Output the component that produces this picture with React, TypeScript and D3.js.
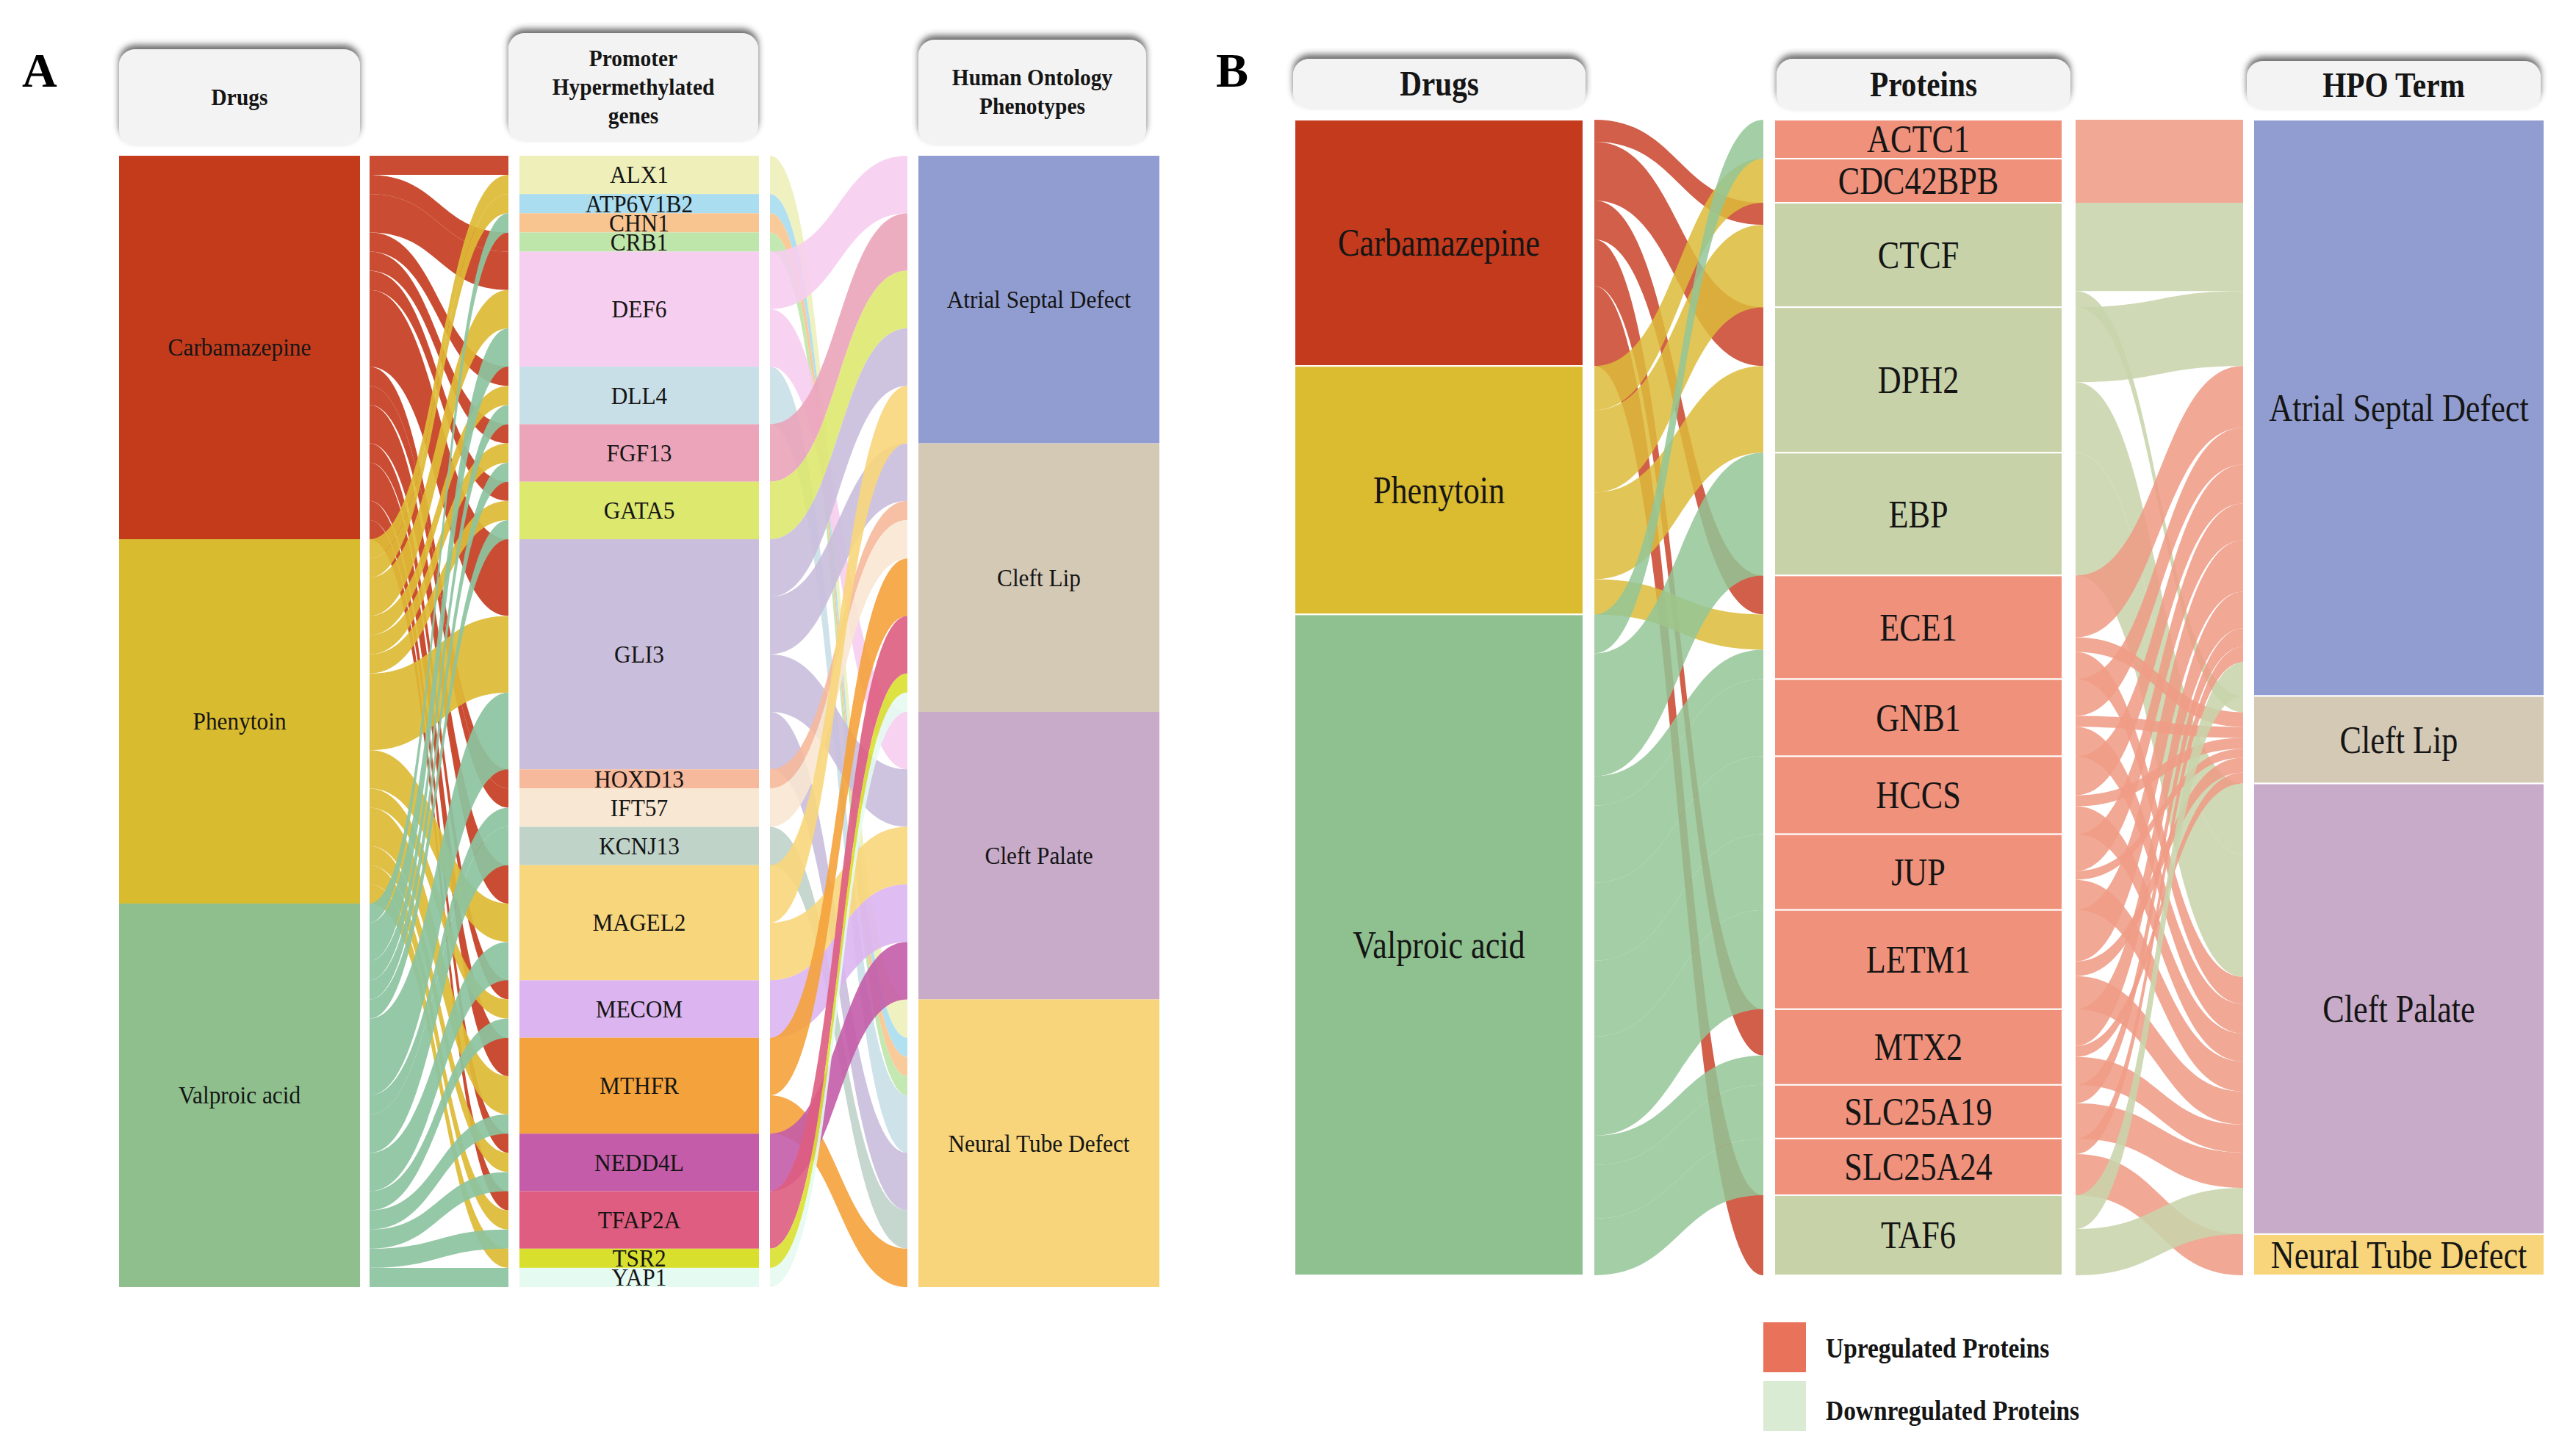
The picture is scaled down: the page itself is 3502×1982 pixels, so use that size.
import React, { useEffect } from "react";
import * as d3 from "d3";

// ---------- Panel A data ----------
const drugsA = ["Carbamazepine", "Phenytoin", "Valproic acid"];
const genesA = [
  "ALX1", "ATP6V1B2", "CHN1", "CRB1", "DEF6", "DLL4", "FGF13", "GATA5", "GLI3",
  "HOXD13", "IFT57", "KCNJ13", "MAGEL2", "MECOM", "MTHFR", "NEDD4L", "TFAP2A", "TSR2", "YAP1",
];
const phenotypesA = ["Atrial Septal Defect", "Cleft Lip", "Cleft Palate", "Neural Tube Defect"];

// drug -> gene (number of associations)
const drugGeneA: [string, string, number][] = [
  ["Carbamazepine", "ALX1", 1], ["Phenytoin", "ALX1", 1],
  ["Phenytoin", "ATP6V1B2", 1],
  ["Valproic acid", "CHN1", 1],
  ["Carbamazepine", "CRB1", 1],
  ["Carbamazepine", "DEF6", 2], ["Phenytoin", "DEF6", 2], ["Valproic acid", "DEF6", 2],
  ["Carbamazepine", "DLL4", 1], ["Phenytoin", "DLL4", 1], ["Valproic acid", "DLL4", 1],
  ["Carbamazepine", "FGF13", 1], ["Phenytoin", "FGF13", 1], ["Valproic acid", "FGF13", 1],
  ["Carbamazepine", "GATA5", 1], ["Phenytoin", "GATA5", 1], ["Valproic acid", "GATA5", 1],
  ["Carbamazepine", "GLI3", 4], ["Phenytoin", "GLI3", 4], ["Valproic acid", "GLI3", 4],
  ["Carbamazepine", "HOXD13", 1],
  ["Carbamazepine", "IFT57", 1], ["Valproic acid", "IFT57", 1],
  ["Valproic acid", "KCNJ13", 2],
  ["Carbamazepine", "MAGEL2", 2], ["Phenytoin", "MAGEL2", 2], ["Valproic acid", "MAGEL2", 2],
  ["Carbamazepine", "MECOM", 1], ["Phenytoin", "MECOM", 1], ["Valproic acid", "MECOM", 1],
  ["Carbamazepine", "MTHFR", 2], ["Phenytoin", "MTHFR", 2], ["Valproic acid", "MTHFR", 1],
  ["Carbamazepine", "NEDD4L", 1], ["Phenytoin", "NEDD4L", 1], ["Valproic acid", "NEDD4L", 1],
  ["Carbamazepine", "TFAP2A", 1], ["Phenytoin", "TFAP2A", 1], ["Valproic acid", "TFAP2A", 1],
  ["Phenytoin", "TSR2", 1],
  ["Valproic acid", "YAP1", 1],
];

// gene -> phenotype
const genePhenoA: [string, string, number][] = [
  ["ALX1", "Neural Tube Defect", 2],
  ["ATP6V1B2", "Neural Tube Defect", 1],
  ["CHN1", "Neural Tube Defect", 1],
  ["CRB1", "Neural Tube Defect", 1],
  ["DEF6", "Atrial Septal Defect", 3], ["DEF6", "Cleft Palate", 3],
  ["DLL4", "Neural Tube Defect", 3],
  ["FGF13", "Atrial Septal Defect", 3],
  ["GATA5", "Atrial Septal Defect", 3],
  ["GLI3", "Atrial Septal Defect", 3], ["GLI3", "Cleft Lip", 3], ["GLI3", "Cleft Palate", 3], ["GLI3", "Neural Tube Defect", 3],
  ["HOXD13", "Cleft Lip", 1],
  ["IFT57", "Cleft Lip", 2],
  ["KCNJ13", "Neural Tube Defect", 2],
  ["MAGEL2", "Atrial Septal Defect", 3], ["MAGEL2", "Cleft Palate", 3],
  ["MECOM", "Cleft Palate", 3],
  ["MTHFR", "Cleft Lip", 3], ["MTHFR", "Neural Tube Defect", 2],
  ["NEDD4L", "Cleft Palate", 3],
  ["TFAP2A", "Cleft Lip", 3],
  ["TSR2", "Cleft Lip", 1],
  ["YAP1", "Cleft Lip", 1],
];

const drugColorsA = ["#C43B1C", "#D9BB30", "#8EBF8D"];
const drugLinkColorsA = ["#C63E22", "#DDBA35", "#8CC3A0"];
const geneColorsA = [
  "#EEEFB9", "#A9DDEF", "#F8C590", "#BEE6AA", "#F6CEEF", "#C9DFE8", "#EBA4BA", "#DDE86F", "#C9BEDC",
  "#F6B99B", "#F8E7D2", "#BFD3C9", "#F8D67B", "#DCB5F0", "#F4A23B", "#C45CA9", "#DE5D81", "#D8E02D", "#E5FAF1",
];
const phenoColors = ["#919DD0", "#D4C9B5", "#C8AAC9", "#F8D57B"];

// ---------- Panel B data ----------
const drugsB = ["Carbamazepine", "Phenytoin", "Valproic acid"];
const proteinsB = [
  "ACTC1", "CDC42BPB", "CTCF", "DPH2", "EBP", "ECE1", "GNB1", "HCCS", "JUP",
  "LETM1", "MTX2", "SLC25A19", "SLC25A24", "TAF6",
];
const regulationB = ["up", "up", "down", "down", "down", "up", "up", "up", "up", "up", "up", "up", "up", "down"];
const hpoB = ["Atrial Septal Defect", "Cleft Lip", "Cleft Palate", "Neural Tube Defect"];

const drugProteinB: [string, string, number][] = [
  ["Carbamazepine", "CTCF", 3.0], ["Carbamazepine", "DPH2", 8.0], ["Carbamazepine", "ECE1", 5.3],
  ["Carbamazepine", "MTX2", 6.3], ["Carbamazepine", "TAF6", 10.9],
  ["Phenytoin", "CDC42BPB", 6.0], ["Phenytoin", "CTCF", 11.2], ["Phenytoin", "DPH2", 11.8], ["Phenytoin", "ECE1", 4.8],
  ["Valproic acid", "ACTC1", 5.3], ["Valproic acid", "EBP", 16.7], ["Valproic acid", "ECE1", 4.0],
  ["Valproic acid", "GNB1", 10.5], ["Valproic acid", "HCCS", 10.6], ["Valproic acid", "JUP", 10.3],
  ["Valproic acid", "LETM1", 13.5], ["Valproic acid", "MTX2", 4.0], ["Valproic acid", "SLC25A19", 7.3],
  ["Valproic acid", "SLC25A24", 7.7],
];

const proteinHpoB: [string, string, number][] = [
  ["ACTC1", "Atrial Septal Defect", 5.3],
  ["CDC42BPB", "Atrial Septal Defect", 6.0],
  ["CTCF", "Atrial Septal Defect", 12.0], ["CTCF", "Cleft Lip", 2.2],
  ["DPH2", "Atrial Septal Defect", 10.2], ["DPH2", "Cleft Palate", 9.6],
  ["EBP", "Cleft Palate", 16.7],
  ["ECE1", "Atrial Septal Defect", 8.4], ["ECE1", "Cleft Lip", 2.0], ["ECE1", "Cleft Palate", 3.7],
  ["GNB1", "Atrial Septal Defect", 5.0], ["GNB1", "Cleft Lip", 1.5], ["GNB1", "Cleft Palate", 4.0],
  ["HCCS", "Atrial Septal Defect", 5.3], ["HCCS", "Cleft Lip", 1.5], ["HCCS", "Cleft Palate", 3.8],
  ["JUP", "Atrial Septal Defect", 5.0], ["JUP", "Cleft Lip", 1.2], ["JUP", "Cleft Palate", 4.1],
  ["LETM1", "Atrial Septal Defect", 7.0], ["LETM1", "Cleft Lip", 2.0], ["LETM1", "Cleft Palate", 4.5],
  ["MTX2", "Atrial Septal Defect", 5.0], ["MTX2", "Cleft Lip", 1.5], ["MTX2", "Cleft Palate", 3.8],
  ["SLC25A19", "Atrial Septal Defect", 2.5], ["SLC25A19", "Cleft Palate", 4.8],
  ["SLC25A24", "Atrial Septal Defect", 2.1], ["SLC25A24", "Neural Tube Defect", 5.6],
  ["TAF6", "Atrial Septal Defect", 4.6], ["TAF6", "Cleft Palate", 6.3],
];

const drugColorsB = ["#C33A1D", "#DBBB30", "#8FC08F"];
const drugLinkColorsB = ["#C9432A", "#DDBB3A", "#93C597"];
const regColors: Record<string, string> = { up: "#EF917B", down: "#C8D2A8" };
const regLinkColors: Record<string, string> = { up: "#EF9C86", down: "#C8D4AB" };
const legendItems = [
  { label: "Upregulated Proteins", color: "#E8735A" },
  { label: "Downregulated Proteins", color: "#DAEBD4" },
];

const FONT = "'Liberation Serif', 'DejaVu Serif', serif";

type Flow = [string, string, number];

interface NodeBox { name: string; y0: number; y1: number; color: string }
interface BandShape { key: string; d: string; color: string }

function bandPath(x0: number, x1: number, s0: number, s1: number, t0: number, t1: number) {
  const xm = (x0 + x1) / 2;
  const p = d3.path();
  p.moveTo(x0, s0);
  p.bezierCurveTo(xm, s0, xm, t0, x1, t0);
  p.lineTo(x1, t1);
  p.bezierCurveTo(xm, t1, xm, s1, x0, s1);
  p.closePath();
  return p.toString();
}

// stack nodes in each column and route the flows between neighbouring columns
function layout(
  columns: string[][],
  stages: Flow[][],
  nodeColors: ((i: number) => string)[],
  linkColors: ((src: number, tgt: number) => string)[],
  top: number,
  bottom: number,
  linkX: [number, number][]
) {
  const values = columns.map((names, ci) =>
    names.map((n) => {
      const out = ci < stages.length ? d3.sum(stages[ci].filter((f) => f[0] === n), (f) => f[2]) : 0;
      const inn = ci > 0 ? d3.sum(stages[ci - 1].filter((f) => f[1] === n), (f) => f[2]) : 0;
      return Math.max(out, inn);
    })
  );
  const total = d3.sum(values[0]);
  const y = d3.scaleLinear().domain([0, total]).range([top, bottom]);
  const starts = values.map((v) => [0, ...Array.from(d3.cumsum(v))]);

  const nodes: NodeBox[][] = columns.map((names, ci) =>
    names.map((n, i) => ({
      name: n,
      y0: y(starts[ci][i]),
      y1: y(starts[ci][i + 1]),
      color: nodeColors[ci](i),
    }))
  );

  const bands: BandShape[][] = stages.map((flows, s) => {
    const src = columns[s];
    const tgt = columns[s + 1];
    const items = flows.map((f) => ({ si: src.indexOf(f[0]), ti: tgt.indexOf(f[1]), v: f[2], s0: 0, t0: 0 }));
    const outOff = starts[s].slice();
    d3.sort(items, (a) => a.si, (a) => a.ti).forEach((it) => {
      it.s0 = outOff[it.si];
      outOff[it.si] += it.v;
    });
    const inOff = starts[s + 1].slice();
    d3.sort(items, (a) => a.ti, (a) => a.si).forEach((it) => {
      it.t0 = inOff[it.ti];
      inOff[it.ti] += it.v;
    });
    const [x0, x1] = linkX[s];
    return d3.sort(items, (a) => a.si, (a) => a.ti).map((it) => ({
      key: `${s}-${it.si}-${it.ti}`,
      d: bandPath(x0, x1, y(it.s0), y(it.s0 + it.v), y(it.t0), y(it.t0 + it.v)),
      color: linkColors[s](it.si, it.ti),
    }));
  });

  return { nodes, bands };
}

interface Header { x: number; y: number; w: number; h: number; lines: string[]; size: number; sx: number }

// text squeezed horizontally, as in the source figure
const Label: React.FC<{ x: number; y: number; size: number; sx: number; bold?: boolean; anchor?: string; children: string }> = ({
  x, y, size, sx, bold, anchor = "middle", children,
}) => (
  <text
    transform={`translate(${x},${y}) scale(${sx},1)`}
    textAnchor={anchor}
    dominantBaseline="central"
    fontFamily={FONT}
    fontWeight={bold ? "bold" : "normal"}
    fontSize={size}
    fill="#151515"
  >
    {children}
  </text>
);

const HeaderBox: React.FC<{ h: Header }> = ({ h }) => {
  const lh = h.size * 1.22;
  const cy = h.y + h.h / 2;
  const first = cy - ((h.lines.length - 1) * lh) / 2;
  return (
    <g>
      <rect x={h.x} y={h.y} width={h.w} height={h.h} rx={22} fill="#F3F3F3" filter="url(#hdrShadow)" />
      {h.lines.map((l, i) => (
        <Label key={l} x={h.x + h.w / 2} y={first + i * lh} size={h.size} sx={h.sx} bold>
          {l}
        </Label>
      ))}
    </g>
  );
};

const App: React.FC = () => {
  useEffect(() => {
    document.body.style.margin = "0";
  }, []);

  // ----- Panel A -----
  const colXA: [number, number][] = [[162, 490], [707, 1033], [1250, 1578]];
  const linkXA: [number, number][] = [[503, 692], [1048, 1235]];
  const A = layout(
    [drugsA, genesA, phenotypesA],
    [drugGeneA, genePhenoA],
    [(i) => drugColorsA[i], (i) => geneColorsA[i], (i) => phenoColors[i]],
    [(s) => drugLinkColorsA[s], (s) => geneColorsA[s]],
    212,
    1752,
    linkXA
  );
  const headersA: Header[] = [
    { x: 162, y: 67, w: 328, h: 131, lines: ["Drugs"], size: 32, sx: 0.92 },
    { x: 692, y: 45, w: 340, h: 147, lines: ["Promoter", "Hypermethylated", "genes"], size: 32, sx: 0.92 },
    { x: 1250, y: 54, w: 310, h: 143, lines: ["Human Ontology", "Phenotypes"], size: 32, sx: 0.92 },
  ];

  // ----- Panel B -----
  const colXB: [number, number][] = [[1762, 2155], [2415, 2807], [3067, 3463]];
  const linkXB: [number, number][] = [[2170, 2400], [2825, 3053]];
  const B = layout(
    [drugsB, proteinsB, hpoB],
    [drugProteinB, proteinHpoB],
    [(i) => drugColorsB[i], (i) => regColors[regulationB[i]], (i) => phenoColors[i]],
    [(s) => drugLinkColorsB[s], (s) => regLinkColors[regulationB[s]]],
    163,
    1736,
    linkXB
  );
  const headersB: Header[] = [
    { x: 1760, y: 80, w: 398, h: 68, lines: ["Drugs"], size: 48, sx: 0.86 },
    { x: 2418, y: 80, w: 400, h: 70, lines: ["Proteins"], size: 48, sx: 0.86 },
    { x: 3058, y: 83, w: 400, h: 66, lines: ["HPO Term"], size: 48, sx: 0.86 },
  ];

  const renderNodes = (nodes: NodeBox[][], colX: [number, number][], fontSize: number, sx: number, sep: boolean) =>
    nodes.map((col, ci) =>
      col.map((n) => (
        <g key={`${ci}-${n.name}`}>
          <rect
            x={colX[ci][0]}
            y={n.y0}
            width={colX[ci][1] - colX[ci][0]}
            height={n.y1 - n.y0}
            fill={n.color}
            stroke={sep ? "#ffffff" : "none"}
            strokeWidth={sep ? 2 : 0}
          />
          <Label x={(colX[ci][0] + colX[ci][1]) / 2} y={(n.y0 + n.y1) / 2} size={fontSize} sx={sx}>
            {n.name}
          </Label>
        </g>
      ))
    );

  return (
    <svg width={3502} height={1982} style={{ display: "block", background: "#fff" }}>
      <defs>
        <filter id="hdrShadow" x="-10%" y="-30%" width="120%" height="150%">
          <feDropShadow dx={0} dy={-6} stdDeviation={4} floodColor="#3a3a3a" floodOpacity={0.75} />
        </filter>
      </defs>

      {/* Panel A */}
      <text x={30} y={118} fontFamily={FONT} fontWeight="bold" fontSize={66} fill="#000">A</text>
      {headersA.map((h) => <HeaderBox key={h.lines.join()} h={h} />)}
      {A.bands.map((stage, s) =>
        stage.map((b) => <path key={`a${b.key}`} d={b.d} fill={b.color} fillOpacity={s === 0 ? 0.92 : 0.9} />)
      )}
      {renderNodes(A.nodes, colXA, 33, 0.95, false)}

      {/* Panel B */}
      <text x={1655} y={118} fontFamily={FONT} fontWeight="bold" fontSize={66} fill="#000">B</text>
      {headersB.map((h) => <HeaderBox key={h.lines.join()} h={h} />)}
      {B.bands.map((stage, s) =>
        stage.map((b) => <path key={`b${b.key}`} d={b.d} fill={b.color} fillOpacity={s === 0 ? 0.85 : 0.88} />)
      )}
      {renderNodes(B.nodes, colXB, 52, 0.85, true)}

      {/* Legend */}
      {legendItems.map((it, i) => (
        <g key={it.label}>
          <rect x={2400} y={1800 + i * 80} width={58} height={68} fill={it.color} />
          <Label x={2485} y={1835 + i * 85} size={38} sx={0.88} bold anchor="start">
            {it.label}
          </Label>
        </g>
      ))}
    </svg>
  );
};

export default App;
